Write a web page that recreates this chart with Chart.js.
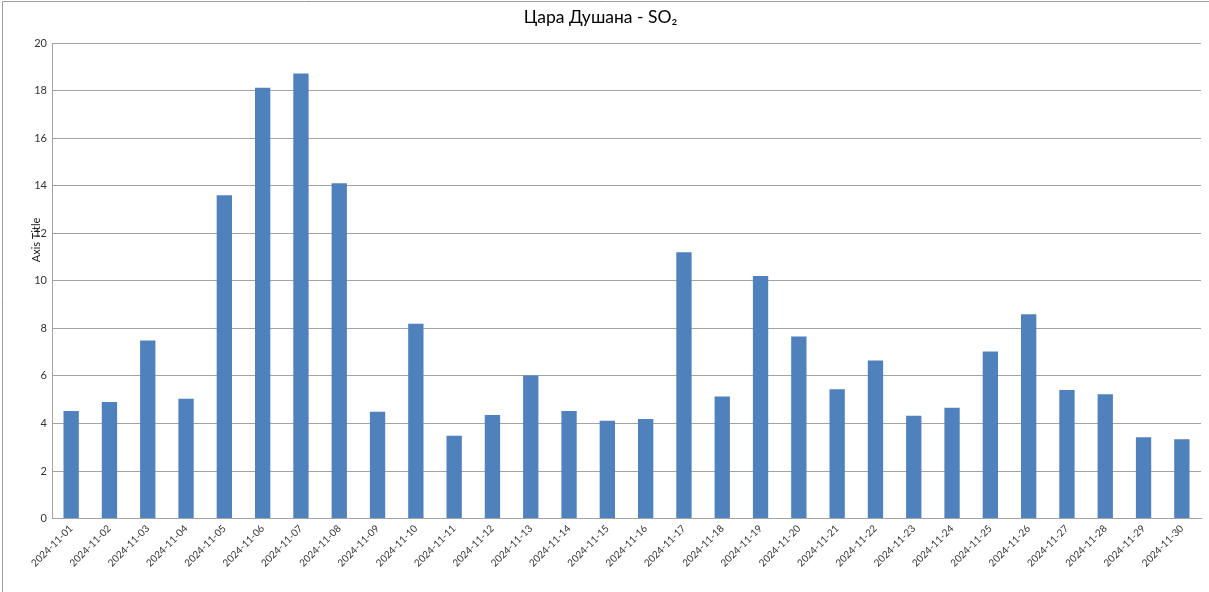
<!DOCTYPE html>
<html>
<head>
<meta charset="utf-8">
<script src="https://cdn.jsdelivr.net/npm/chart.js@4/dist/chart.umd.min.js"></script>
<style>
	html, body { margin: 0; padding: 0; background: #fff; }
	#wrap { width: 1209px; height: 592px; position: relative; }
</style>
</head>
<body>
<div id="wrap"><canvas id="myChart"></canvas></div>
<script>
const dates = [
	"2024-11-01", "2024-11-02", "2024-11-03", "2024-11-04", "2024-11-05",
	"2024-11-06", "2024-11-07", "2024-11-08", "2024-11-09", "2024-11-10",
	"2024-11-11", "2024-11-12", "2024-11-13", "2024-11-14", "2024-11-15",
	"2024-11-16", "2024-11-17", "2024-11-18", "2024-11-19", "2024-11-20",
	"2024-11-21", "2024-11-22", "2024-11-23", "2024-11-24", "2024-11-25",
	"2024-11-26", "2024-11-27", "2024-11-28", "2024-11-29", "2024-11-30"
];
const so2 = [
	4.53, 4.9, 7.49, 5.04, 13.6, 18.12, 18.72, 14.1, 4.49, 8.19,
	3.48, 4.36, 6.02, 4.52, 4.11, 4.19, 11.2, 5.13, 10.2, 7.66,
	5.44, 6.65, 4.32, 4.66, 7.03, 8.59, 5.41, 5.23, 3.42, 3.34
];
const yTicks = [0, 2, 4, 6, 8, 10, 12, 14, 16, 18, 20];
const titolo = "Цара Душана - SO₂";
const titoloAsse = "Axis Title";

const fontFamily = "Lato, 'Open Sans', sans-serif";
const gridColor = "#a3a3a3";

// bordo esterno (solo sopra e a sinistra, come nell'immagine) + titolo asse
const decorazioni = {
	id: "decorazioni",
	beforeDraw(chart) {
		const ctx = chart.ctx;
		ctx.save();
		ctx.strokeStyle = "#9c9c9c";
		ctx.lineWidth = 1;
		ctx.beginPath();
		ctx.moveTo(2.5, chart.height + 2);
		ctx.lineTo(2.5, 1.5);
		ctx.lineTo(chart.width + 2, 1.5);
		ctx.stroke();
		ctx.restore();
	},
	afterDraw(chart) {
		const ctx = chart.ctx;
		ctx.save();
		ctx.translate(36, 240);
		ctx.rotate(-Math.PI / 2);
		ctx.font = "11px " + fontFamily;
		ctx.fillStyle = "#222";
		ctx.textAlign = "center";
		ctx.textBaseline = "middle";
		ctx.fillText(titoloAsse, 0, 0);
		ctx.restore();
	},
};

function generaGrafico() {
	const ctx = document.getElementById("myChart").getContext("2d");
	new Chart(ctx, {
		type: "bar",
		data: {
			labels: dates,
			datasets: [
				{
					data: so2,
					backgroundColor: "#4f81bd",
					borderWidth: 0,
					categoryPercentage: 0.8,
					barPercentage: 0.5,
				},
			],
		},
		options: {
			responsive: true,
			maintainAspectRatio: false,
			animation: false,
			layout: { padding: { left: 0, right: 8, top: 0, bottom: 0 } },
			plugins: {
				legend: { display: false },
				tooltip: { enabled: false },
				title: {
					display: true,
					text: titolo,
					color: "#000",
					font: { family: fontFamily, size: 17.5, weight: "normal" },
					padding: { top: 7, bottom: 15 },
				},
			},
			scales: {
				x: {
					grid: { display: false, drawTicks: false },
					border: { display: true, color: gridColor },
					ticks: {
						autoSkip: false,
						maxRotation: 45,
						minRotation: 45,
						color: "#333",
						padding: 4,
						font: { family: fontFamily, size: 10 },
					},
					afterFit(scale) {
						scale.height = 73.4;
					},
				},
				y: {
					min: 0,
					max: 20,
					afterBuildTicks(scale) {
						scale.ticks = yTicks.map((v) => ({ value: v }));
					},
					grid: { color: gridColor, drawTicks: false },
					border: { display: true, color: gridColor },
					ticks: {
						color: "#333",
						padding: 5,
						font: { family: fontFamily, size: 11 },
					},
					afterFit(scale) {
						scale.width = 52;
					},
				},
			},
		},
		plugins: [decorazioni],
	});
}
generaGrafico();
</script>
</body>
</html>
